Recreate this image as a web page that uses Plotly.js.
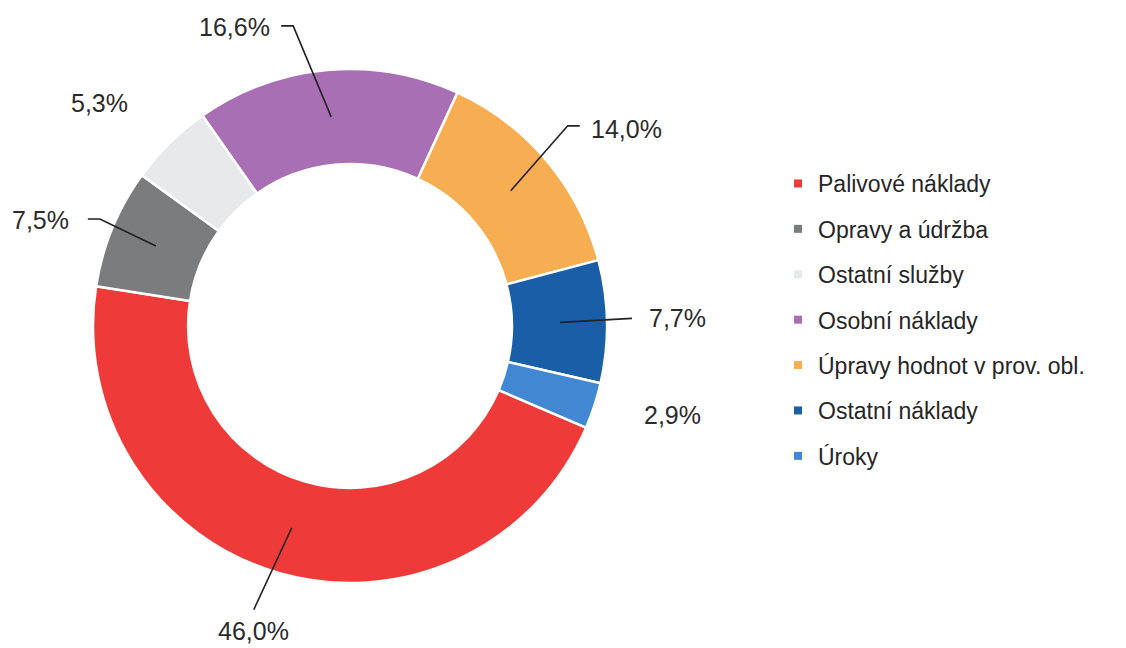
<!DOCTYPE html>
<html><head><meta charset="utf-8">
<script src="https://cdn.plot.ly/plotly-3.0.1.min.js"></script>
<style>html,body{margin:0;padding:0;background:#fff}#chart{width:1126px;height:648px}</style>
</head><body><div id="chart"></div>
<script>
// Data
const categories = ["Palivové náklady","Opravy a údržba","Ostatní služby","Osobní náklady","Úpravy hodnot v prov. obl.","Ostatní náklady","Úroky"];
const shares = [46.0, 7.5, 5.3, 16.6, 14.0, 7.7, 2.9];
const valueLabels = ["46,0%","7,5%","5,3%","16,6%","14,0%","7,7%","2,9%"];

// Styles
const colors = ["#ee3b39","#7b7c7e","#e7e9ea","#a96fb4","#f7ad52","#1a5ea8","#4287d2"];
const W = 1126, H = 648;
const CX = 350, CY = 326, R = 257, HOLE = 0.63, ROT = 113.3;
const FONT = 'Liberation Sans, Arial, sans-serif';
// label offsets (px) of text centre from anchor, and leader style
const labelOffsets = [[-38,103,'straight'],[-115,-26,'elbowL'],[-103,-73,'none'],[-97,-90,'elbowL'],[116,-62,'elbowR'],[118,-4,'straight'],[123,24,'none']];
const textHalfW = 41, textHalfH = 14, stub = 12;

const px = x => x / W, py = y => 1 - y / H;
const total = shares.reduce((a,b)=>a+b,0);
let cum = 0;
const annotations = [], shapes = [];
const anchorR = 210;
shares.forEach((v,i)=>{
  const mid = (cum + v/2) / total * 360 + ROT;
  cum += v;
  const a = mid * Math.PI/180;
  const ax = CX + anchorR*Math.sin(a), ay = CY - anchorR*Math.cos(a);
  const [dx,dy,style] = labelOffsets[i];
  const tx = ax + dx, ty = ay + dy;
  annotations.push({x:px(tx), y:py(ty), xref:'paper', yref:'paper', text:valueLabels[i], showarrow:false,
    xanchor:'center', yanchor:'middle', font:{family:FONT, size:25, color:'#2b2b2b'}});
  let path = null;
  if (style==='straight') {
    let ex, ey;
    if (Math.abs(dy) > Math.abs(dx)) { ex = tx; ey = ty + (dy>0 ? -textHalfH-7 : textHalfH+7); }
    else { ex = tx + (dx>0 ? -textHalfW-5 : textHalfW+5); ey = ty; }
    path = `M ${px(ax)} ${py(ay)} L ${px(ex)} ${py(ey)}`;
  } else if (style==='elbowL') {
    const ex = tx + textHalfW + 6, ey = ty - 1;
    path = `M ${px(ex)} ${py(ey)} L ${px(ex+stub)} ${py(ey)} L ${px(ax)} ${py(ay)}`;
  } else if (style==='elbowR') {
    const ex = tx - textHalfW - 6, ey = ty - 3;
    path = `M ${px(ex)} ${py(ey)} L ${px(ex-stub)} ${py(ey)} L ${px(ax)} ${py(ay)}`;
  }
  if (path) shapes.push({type:'path', xref:'paper', yref:'paper', path, line:{color:'#222222', width:1.6}});
});

const pie = {
  type:'pie', labels:categories, values:shares, hole:HOLE, sort:false, showlegend:false,
  direction:'clockwise', rotation:ROT, textinfo:'none', hoverinfo:'label+percent',
  marker:{colors:colors, line:{color:'#ffffff', width:2.5}},
  domain:{x:[px(CX-R), px(CX+R)], y:[py(CY+R), py(CY-R)]}
};
// legend entries (one per category)
const legendTraces = categories.map((c,i)=>({
  type:'scatter', mode:'markers', x:[null], y:[null], name:c, legendgroup:'g'+i,
  marker:{symbol:'square', size:8, color:colors[i]}, hoverinfo:'skip'
}));

const layout = {
  width:W, height:H, margin:{l:0,r:0,t:0,b:0}, paper_bgcolor:'#fff', plot_bgcolor:'rgba(0,0,0,0)',
  showlegend:true,
  xaxis:{visible:false}, yaxis:{visible:false},
  legend:{x:px(778), y:py(162), xanchor:'left', yanchor:'top', traceorder:'grouped',
    font:{family:FONT, size:23, color:'#262626'}, tracegroupgap:12.5, itemwidth:30},
  annotations, shapes
};
Plotly.newPlot('chart',[pie, ...legendTraces],layout,{displayModeBar:false,staticPlot:true});
</script></body></html>
